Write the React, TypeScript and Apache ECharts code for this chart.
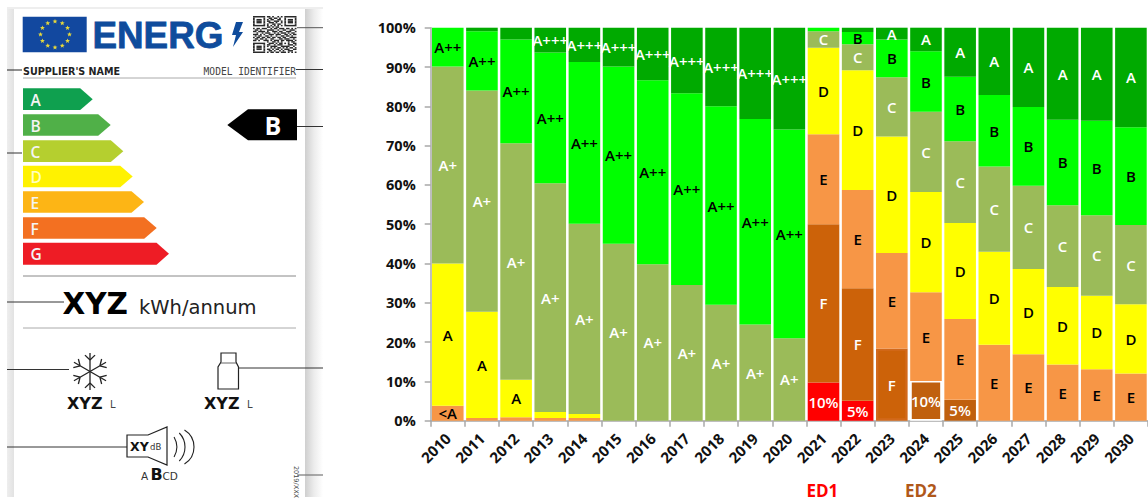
import React, { useEffect, useRef } from "react";
import * as echarts from "echarts";

const years = ["2010","2011","2012","2013","2014","2015","2016","2017","2018","2019","2020","2021","2022","2023","2024","2025","2026","2027","2028","2029","2030"];
const yTicks = [0, 10, 20, 30, 40, 50, 60, 70, 80, 90, 100];

const redValues = [0,0,0,0,0,0,0,0,0,0,0,9.7,5.1,0,0,0,0,0,0,0,0];
const brownValues = [0,0,0,0,0,0,0,0,0,0,0,40.3,28.6,18.4,10.1,5.3,0,0,0,0,0];
const orangeValues = [3.8,0.7,0.9,0.7,0.7,0,0,0,0,0,0,22.9,25,24.3,22.6,20.6,19.3,16.9,14.3,13.1,12];
const yellowValues = [36.2,27,9.5,1.5,1,0,0,0,0,0,0,22,30.5,29.6,25.5,24.4,23.7,21.7,19.7,18.7,17.6];
const oliveValues = [50.1,56.3,60.2,58.2,48.4,45,39.8,34.5,29.5,24.5,21,4.2,6.6,15.1,20.4,20.8,21.7,21.2,20.8,20.5,20.2];
const greenValues = [9.9,15.1,26.4,33.3,41.2,45.1,46.8,48.8,50.5,52.3,53.1,0.9,3.1,9.6,15.4,16.4,18.2,20,21.8,24,24.9];
const darkValues = [0,0.9,3,6.3,8.7,9.9,13.4,16.7,20,23.2,25.9,0,1.1,3,6,12.5,17.1,20.2,23.4,23.7,25.3];

const redLabels = ["","","","","","","","","","","","10%","5%","","","","","","","",""];
const brownLabels = ["","","","","","","","","","","","F","F","F","10%","5%","","","","",""];
const orangeLabels = ["<A","","","","","","","","","","","E","E","E","E","E","E","E","E","E","E"];
const yellowLabels = ["A","A","A","","","","","","","","","D","D","D","D","D","D","D","D","D","D"];
const oliveLabels = ["A+","A+","A+","A+","A+","A+","A+","A+","A+","A+","A+","C","C","C","C","C","C","C","C","C","C"];
const greenLabels = ["A++","A++","A++","A++","A++","A++","A++","A++","A++","A++","A++","","B","B","B","B","B","B","B","B","B"];
const darkLabels = ["","","","A+++","A+++","A+++","A+++","A+++","A+++","A+++","A+++","","","A","A","A","A","A","A","A","A"];

const ratingBands = [
  { letter: "A", color: "#0FA04F", top: 88.3, bottom: 110, tip: 92.7 },
  { letter: "B", color: "#50B048", top: 114.3, bottom: 135.7, tip: 110.7 },
  { letter: "C", color: "#B5CF2F", top: 140.3, bottom: 162, tip: 123.3 },
  { letter: "D", color: "#FFF200", top: 165.7, bottom: 187.3, tip: 132.7 },
  { letter: "E", color: "#FDB515", top: 191.3, bottom: 212.7, tip: 144 },
  { letter: "F", color: "#F37021", top: 217.3, bottom: 238.7, tip: 156.7 },
  { letter: "G", color: "#EE1C25", top: 242.7, bottom: 264.7, tip: 169 },
];

const qrRows = [
  "1111111011010010101111111",
  "1000001001101101001000001",
  "1011101010110011001011101",
  "1011101011001110101011101",
  "1011101001110100101011101",
  "1000001010011011001000001",
  "1111111010101010101111111",
  "0000000011010110000000000",
  "1011011100101101110110101",
  "0110100011110010011001110",
  "1101111010011101100111001",
  "0010010111001010111010110",
  "1110101001110111001101011",
  "0101100110100100110110100",
  "1011011011011011011001111",
  "0110110100110001101110010",
  "1101001110101110110111101",
  "0000000010011010100010110",
  "1111111001110101101010011",
  "1000001011001011100011101",
  "1011101010111100111110010",
  "1011101000101011010101101",
  "1011101011010110101110011",
  "1000001001101001010011100",
  "1111111010110110111010101",
];

const FONT = "'Open Sans', sans-serif";
const DEJAVU = "'DejaVu Sans', sans-serif";

function starPoints(cx: number, cy: number, r: number) {
  const pts: number[][] = [];
  for (let i = 0; i < 10; i++) {
    const a = -Math.PI / 2 + (i * Math.PI) / 5;
    const rr = i % 2 === 0 ? r : r * 0.42;
    pts.push([cx + rr * Math.cos(a), cy + rr * Math.sin(a)]);
  }
  return pts;
}

function line(x1: number, y1: number, x2: number, y2: number, stroke = "#333", lineWidth = 1) {
  return { type: "line", silent: true, shape: { x1, y1, x2, y2 }, style: { stroke, lineWidth } };
}

function text(t: string, x: number, y: number, fontSize: number, opts: any = {}) {
  const { rotation, ...style } = opts;
  return {
    type: "text",
    silent: true,
    x,
    y,
    rotation: rotation || 0,
    style: {
      text: t,
      x: 0,
      y: 0,
      fontSize,
      fontFamily: DEJAVU,
      fill: "#111",
      textAlign: "left",
      textVerticalAlign: "middle",
      ...style,
    },
  };
}

function poster(): any[] {
  const els: any[] = [];
  const hGrad = (stops: string[]) => ({
    type: "linear", x: 0, y: 0, x2: 1, y2: 0,
    colorStops: stops.map((color, i) => ({ offset: i / (stops.length - 1), color })),
  });
  els.push({ type: "rect", silent: true, shape: { x: 7, y: 7, width: 316, height: 2 }, style: { fill: "#eeeeee" } });
  els.push({ type: "rect", silent: true, shape: { x: 7, y: 9, width: 7, height: 488 }, style: { fill: hGrad(["#eeeeee", "#e2e2e2"]) } });
  els.push({ type: "rect", silent: true, shape: { x: 305, y: 9, width: 18, height: 488 }, style: { fill: hGrad(["#cfcfcf", "#ececec", "#ffffff"]) } });

  // flag
  els.push({ type: "rect", silent: true, shape: { x: 22.7, y: 16.7, width: 64, height: 35.6 }, style: { fill: "#12489F" } });
  for (let i = 0; i < 12; i++) {
    const a = (i * Math.PI) / 6;
    els.push({
      type: "polygon", silent: true,
      shape: { points: starPoints(55 + 14.5 * Math.sin(a), 34.5 - 13 * Math.cos(a), 2.6) },
      style: { fill: "#E8D93A" },
    });
  }
  // wordmark
  els.push(text("ENERG", 92.5, 35, 36.8, { fontFamily: "'Liberation Sans', Arial, sans-serif", fontWeight: "bold", fill: "#0F4C9C", stroke: "#0F4C9C", lineWidth: 0.8 }));
  els.push({
    type: "polygon", silent: true,
    shape: { points: [[236, 22], [243, 22], [239, 32], [243, 32], [233, 47], [236, 35], [232, 35]] },
    style: { fill: "#0F4C9C" },
  });
  // QR
  const qx = 253, qy = 16, mw = 43.5 / 25, mh = 37 / 25;
  qrRows.forEach((row, r) => {
    let start = -1;
    for (let c = 0; c <= row.length; c++) {
      const on = row[c] === "1";
      if (on && start < 0) start = c;
      if (!on && start >= 0) {
        els.push({ type: "rect", silent: true, shape: { x: qx + start * mw, y: qy + r * mh, width: (c - start) * mw, height: mh }, style: { fill: "#2a2a2a" } });
        start = -1;
      }
    }
  });

  // leaders
  els.push(line(297, 27.7, 323, 27.7, "#555"));
  els.push(line(296, 69.5, 323, 69.5, "#333"));
  els.push(line(7, 70, 22, 70, "#222"));
  els.push(line(297, 126.5, 323, 126.5, "#333"));
  els.push(line(7, 153, 22, 153, "#333"));
  els.push(line(7, 302, 64, 302, "#333"));
  els.push(line(7, 369.5, 69, 369.5, "#333"));
  els.push(line(238, 368, 323, 368, "#333"));
  els.push(line(7, 447, 127, 447, "#333"));
  els.push(line(297, 475, 323, 475, "#777", 1.2));

  els.push(text("SUPPLIER'S NAME", 23, 71, 9.6, { fontWeight: "bold", fill: "#222" }));
  els.push(text("MODEL IDENTIFIER", 296, 71, 9.6, { textAlign: "right", fill: "#444", fontFamily: "'DejaVu Sans Mono', monospace" }));
  els.push(line(23, 78, 296, 78, "#aaa", 1));

  // rating arrows
  ratingBands.forEach((b) => {
    const mid = (b.top + b.bottom) / 2;
    els.push({
      type: "polygon", silent: true,
      shape: { points: [[23, b.top], [b.tip - 12.5, b.top], [b.tip, mid], [b.tip - 12.5, b.bottom], [23, b.bottom]] },
      style: { fill: b.color },
    });
    els.push(text(b.letter, 30.5, mid + 0.5, 15.5, { fontFamily: FONT, fontWeight: 600, fill: b.letter === "D" ? "#FFFFC0" : "#F4F4F4" }));
  });

  // class arrow
  els.push({
    type: "polygon", silent: true,
    shape: { points: [[227.3, 125], [248, 109.3], [297, 109.3], [297, 140.3], [248, 140.3]] },
    style: { fill: "#000" },
  });
  els.push(text("B", 273, 125, 25, { fontFamily: FONT, fontWeight: "bold", fill: "#fff", textAlign: "center" }));

  els.push(line(23, 276, 296, 276, "#888"));
  els.push(line(23, 328, 296, 328, "#aaa", 1));
  els.push(text("XYZ", 62.5, 304, 29.5, { fontWeight: "bold", fill: "#000" }));
  els.push(text("kWh/annum", 139, 307, 19.5, { fill: "#222" }));

  // snowflake
  const fx = 90, fy = 371.5, fr = 18.5;
  for (let i = 0; i < 6; i++) {
    const a = Math.PI / 2 + (i * Math.PI) / 3;
    const dx = Math.cos(a), dy = -Math.sin(a);
    els.push(line(fx, fy, fx + fr * dx, fy + fr * dy, "#222", 1.3));
    const bx = fx + 0.62 * fr * dx, by = fy + 0.62 * fr * dy;
    [-0.8, 0.8].forEach((off) => {
      const b = a + off;
      els.push(line(bx, by, bx + 7 * Math.cos(b), by - 7 * Math.sin(b), "#222", 1.3));
    });
  }
  els.push(text("XYZ", 67, 403, 16, { fontWeight: "bold", fill: "#111" }));
  els.push(text("L", 110, 404, 10, { fill: "#444" }));
  els.push(text("XYZ", 204, 403, 16, { fontWeight: "bold", fill: "#111" }));
  els.push(text("L", 247, 404, 10, { fill: "#444" }));

  // bottle
  els.push({
    type: "polygon", silent: true,
    shape: { points: [[218, 389], [218, 367], [221, 362], [221, 353], [236, 353], [236, 362], [238.5, 367], [238.5, 389]] },
    style: { fill: "#fff", stroke: "#222", lineWidth: 1.2 },
  });
  els.push(line(221, 363, 236, 363, "#666", 1));

  // speaker
  els.push({
    type: "polygon", silent: true,
    shape: { points: [[127, 435], [148, 435], [167, 427], [167, 465], [148, 457], [127, 457]] },
    style: { fill: "#fff", stroke: "#222", lineWidth: 1.2 },
  });
  els.push(text("XY", 130, 446.5, 12.5, { fontWeight: "bold", fill: "#111" }));
  els.push(text("dB", 150, 447, 8.5, { fill: "#333" }));
  [[156.7, 0.52], [165, 0.775], [174, 1.02]].forEach(([cx, ang]) => {
    els.push({
      type: "arc", silent: true,
      shape: { cx, cy: 447, r: 20, startAngle: -ang, endAngle: ang },
      style: { stroke: "#222", lineWidth: 1.1, fill: "none" },
    });
  });
  els.push(text("A", 141, 475.5, 10.5, { fill: "#333" }));
  els.push(text("B", 150.5, 474.5, 16, { fontWeight: "bold", fill: "#111" }));
  els.push(text("CD", 162.5, 475.5, 10.5, { fill: "#333" }));
  els.push(text("2019/XXX", 295.5, 482, 6.5, { fill: "#444", textAlign: "center", rotation: -Math.PI / 2 }));

  // regulation labels under the chart
  els.push(text("ED1", 806.5, 490, 17, { fontFamily: FONT, fontWeight: "bold", fill: "#FF0000" }));
  els.push(text("ED2", 905, 490, 17, { fontFamily: FONT, fontWeight: "bold", fill: "#B0581A" }));
  return els;
}

const AXIS_COLOR = "#A8A8A8";

function series(name: string, values: number[], labels: string[], color: string, labelColor: string, itemOverrides: Record<number, any> = {}) {
  return {
    name,
    type: "bar",
    stack: "share",
    barCategoryGap: "7.5%",
    itemStyle: { color },
    label: {
      show: true,
      position: "inside",
      color: labelColor,
      fontFamily: FONT,
      fontWeight: 600,
      fontSize: 15,
      overflow: "none",
    },
    data: values.map((value, i) => ({
      value,
      itemStyle: itemOverrides[i],
      label: { show: labels[i] !== "", formatter: labels[i] || "" },
    })),
  };
}

export default function App() {
  const ref = useRef<HTMLDivElement>(null);
  useEffect(() => {
    document.body.style.margin = "0";
    document.body.style.overflow = "hidden";
    const chart = echarts.init(ref.current!, undefined, { renderer: "svg" });
    chart.setOption({
      animation: false,
      backgroundColor: "#fff",
      grid: { left: 430.7, top: 27.7, width: 724.5, height: 393 },
      xAxis: {
        type: "category",
        data: years,
        axisLine: { lineStyle: { color: AXIS_COLOR, width: 1.5 } },
        axisTick: { show: true, length: 6, alignWithLabel: false, lineStyle: { color: AXIS_COLOR, width: 1.5 } },
        axisLabel: { interval: 0, rotate: 45, margin: 15, fontFamily: FONT, fontWeight: "bold", fontSize: 15, color: "#111" },
      },
      yAxis: {
        type: "value",
        min: yTicks[0],
        max: yTicks[yTicks.length - 1],
        interval: 10,
        splitLine: { show: false },
        axisLine: { show: true, lineStyle: { color: AXIS_COLOR, width: 1.5 } },
        axisTick: { show: true, length: 6, lineStyle: { color: AXIS_COLOR, width: 1.5 } },
        axisLabel: { margin: 15, formatter: "{value}%", fontFamily: FONT, fontWeight: "bold", fontSize: 14.5, color: "#111" },
      },
      series: [
        series("Red", redValues, redLabels, "#FF0000", "#FFFFFF", {
          11: { borderColor: "#FF0000", borderWidth: 2.4 },
          12: { borderColor: "#FF0000", borderWidth: 2.4 },
        }),
        series("Brown", brownValues, brownLabels, "#CC6209", "#FFFFFF", {
          13: { borderColor: "#D2691B", borderWidth: 2.4 },
          14: { color: "#C0600E", borderColor: "#FFFFFF", borderWidth: 1.6 },
          15: { color: "#C0600E" },
        }),
        series("Orange", orangeValues, orangeLabels, "#F79646", "#000000"),
        series("Yellow", yellowValues, yellowLabels, "#FFFF00", "#000000"),
        series("Olive", oliveValues, oliveLabels, "#9BBB59", "#FFFFFF"),
        series("Green", greenValues, greenLabels, "#00FF00", "#000000"),
        series("Dark", darkValues, darkLabels, "#00AA00", "#FFFFFF"),
      ],
      graphic: { elements: poster() },
    });
    return () => chart.dispose();
  }, []);
  return <div ref={ref} style={{ position: "absolute", left: 0, top: 0, width: 1148, height: 501 }} />;
}
